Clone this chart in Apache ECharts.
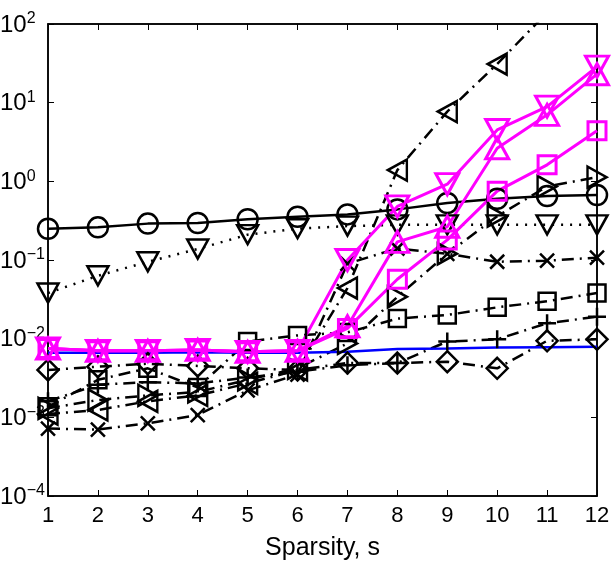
<!DOCTYPE html>
<html>
<head>
<meta charset="utf-8">
<script src="https://cdn.jsdelivr.net/npm/echarts@6/dist/echarts.min.js"></script>
<style>
  html, body { margin: 0; padding: 0; background: #fff; }
  #chart { width: 614px; height: 569px; }
</style>
</head>
<body>
<div id="chart"></div>
<script>
var sparsity = [1, 2, 3, 4, 5, 6, 7, 8, 9, 10, 11, 12];

// black series
var circleVals   = [0.25, 0.26, 0.29, 0.295, 0.33, 0.355, 0.38, 0.44, 0.53, 0.6, 0.65, 0.67];
var triDownVals  = [0.038, 0.063, 0.095, 0.138, 0.21, 0.25, 0.27, 0.28, 0.28, 0.28, 0.28, 0.28];
var triLeftVals  = [0.0011, 0.00124, 0.0016, 0.0019, 0.0027, 0.004, 0.044, 1.39, 7.7, 31, 140, 600];
var triRightVals = [0.0013, 0.00166, 0.0019, 0.0021, 0.003, 0.0042, 0.0087, 0.034, 0.12, 0.36, 0.86, 1.13];
var crossVals    = [0.00072, 0.0007, 0.00084, 0.00107, 0.0022, 0.0035, 0.09, 0.14, 0.12, 0.095, 0.098, 0.107];
var squareVals   = [0.00136, 0.003, 0.0042, 0.0024, 0.0092, 0.011, 0.012, 0.018, 0.02, 0.025, 0.03, 0.038];
var plusVals     = [0.0016, 0.0026, 0.0028, 0.0027, 0.0032, 0.0038, 0.0046, 0.0049, 0.0092, 0.0098, 0.0157, 0.019];
var diamondVals  = [0.004, 0.0044, 0.0048, 0.0045, 0.0042, 0.004, 0.0049, 0.0049, 0.0051, 0.0042, 0.0094, 0.0098];
// blue, no marker
var blueVals     = [0.0066, 0.0066, 0.0066, 0.0067, 0.0066, 0.0066, 0.0068, 0.0074, 0.0075, 0.0077, 0.0078, 0.0079];
// magenta series
var pTriDownVals = [0.0075, 0.007, 0.007, 0.0072, 0.0068, 0.007, 0.1, 0.48, 0.92, 4.5, 8.9, 28.7];
var pTriUpVals   = [0.0075, 0.007, 0.007, 0.0072, 0.0068, 0.007, 0.0144, 0.17, 0.265, 2.63, 7.0, 23];
var pSquareVals  = [0.0075, 0.007, 0.007, 0.0072, 0.0068, 0.007, 0.0135, 0.057, 0.18, 0.75, 1.62, 4.4];

var yTicks = [1e-4, 1e-3, 1e-2, 1e-1, 1e0, 1e1, 1e2];

var SYM = {
    down:  'path://M0,0 L10,0 L5,9 Z',
    up:    'path://M5,0 L10,9 L0,9 Z',
    left:  'path://M9,0 L9,10 L0,5 Z',
    right: 'path://M0,0 L9,5 L0,10 Z',
    cross: 'path://M0,0 L10,10 M10,0 L0,10',
    plus:  'path://M5,0 L5,10 M0,5 L10,5'
};

var dashDot = [12, 6, 2, 6];

function pairs(vals) {
    return sparsity.map(function (s, i) { return [s, vals[i]]; });
}

function mk(name, vals, symbol, size, color, type, width) {
    return {
        name: name,
        type: 'line',
        data: pairs(vals),
        symbol: symbol,
        symbolSize: size,
        showSymbol: symbol !== 'none',
        clip: true,
        lineStyle: { color: color, width: width, type: type },
        itemStyle: { color: 'rgba(0,0,0,0)', borderColor: color, borderWidth: width },
        emphasis: { disabled: true }
    };
}

var font = 'Liberation Sans, Arial, Helvetica, sans-serif';

var option = {
    animation: false,
    backgroundColor: '#fff',
    grid: {
        left: 48, right: 17, top: 24, bottom: 73,
        containLabel: false,
        outerBoundsMode: 'none',
        show: true, borderColor: '#000', borderWidth: 1.5, backgroundColor: 'transparent'
    },
    xAxis: [{
        type: 'value',
        min: 1, max: 12, interval: 1,
        name: 'Sparsity, s',
        nameLocation: 'middle',
        nameGap: 40,
        nameTextStyle: { fontFamily: font, fontSize: 25, color: '#000' },
        axisLine: { show: true, onZero: false, lineStyle: { color: '#000', width: 1.5 } },
        axisTick: { show: true, inside: true, length: 6, lineStyle: { color: '#000' } },
        axisLabel: { fontFamily: font, fontSize: 22, color: '#000', margin: 9 },
        splitLine: { show: false }
    }, {
        type: 'value',
        position: 'top',
        min: 1, max: 12, interval: 1,
        axisLine: { show: true, onZero: false, lineStyle: { color: '#000', width: 1.5 } },
        axisTick: { show: true, inside: true, length: 6, lineStyle: { color: '#000' } },
        axisLabel: { show: false },
        splitLine: { show: false }
    }],
    yAxis: [{
        type: 'log',
        logBase: 10,
        min: yTicks[0], max: yTicks[yTicks.length - 1],
        axisLine: { show: true, onZero: false, lineStyle: { color: '#000', width: 1.5 } },
        axisTick: { show: true, inside: true, length: 6, lineStyle: { color: '#000' } },
        axisLabel: {
            margin: 48,
            align: 'left',
            formatter: function (v) {
                var e = Math.round(Math.log10(v));
                var es = e < 0 ? '\u2212' + (-e) : '' + e;
                return '{b|10}{s|' + es + '}';
            },
            rich: {
                b: { fontFamily: font, fontSize: 24, color: '#000', verticalAlign: 'bottom', lineHeight: 26 },
                s: { fontFamily: font, fontSize: 16, color: '#000', verticalAlign: 'top', lineHeight: 15, padding: [0, 0, 14, 0] }
            }
        },
        splitLine: { show: false }
    }, {
        type: 'log',
        logBase: 10,
        position: 'right',
        min: yTicks[0], max: yTicks[yTicks.length - 1],
        axisLine: { show: true, onZero: false, lineStyle: { color: '#000', width: 1.5 } },
        axisTick: { show: true, inside: true, length: 6, lineStyle: { color: '#000' } },
        axisLabel: { show: false },
        splitLine: { show: false }
    }],
    series: [
        mk('circle', circleVals, 'circle', 20, '#000', 'solid', 2.5),
        mk('tridown', triDownVals, SYM.down, [21, 19], '#000', [2, 7], 2.5),
        mk('trileft', triLeftVals, SYM.left, [19, 21], '#000', dashDot, 2.5),
        mk('triright', triRightVals, SYM.right, [19, 21], '#000', dashDot, 2.5),
        mk('cross', crossVals, SYM.cross, 14, '#000', dashDot, 2.5),
        mk('square', squareVals, 'rect', 17, '#000', dashDot, 2.5),
        mk('plus', plusVals, SYM.plus, 18, '#000', dashDot, 2.5),
        mk('diamond', diamondVals, 'diamond', 21, '#000', dashDot, 2.5),
        mk('blue', blueVals, 'none', 0, '#0000ff', 'solid', 2.5),
        mk('ptridown', pTriDownVals, SYM.down, [23, 21], '#ff00ff', 'solid', 3),
        mk('ptriup', pTriUpVals, SYM.up, [23, 21], '#ff00ff', 'solid', 3),
        mk('psquare', pSquareVals, 'rect', 18, '#ff00ff', 'solid', 3)
    ]
};

var chart = echarts.init(document.getElementById('chart'));
chart.setOption(option);
</script>
</body>
</html>
